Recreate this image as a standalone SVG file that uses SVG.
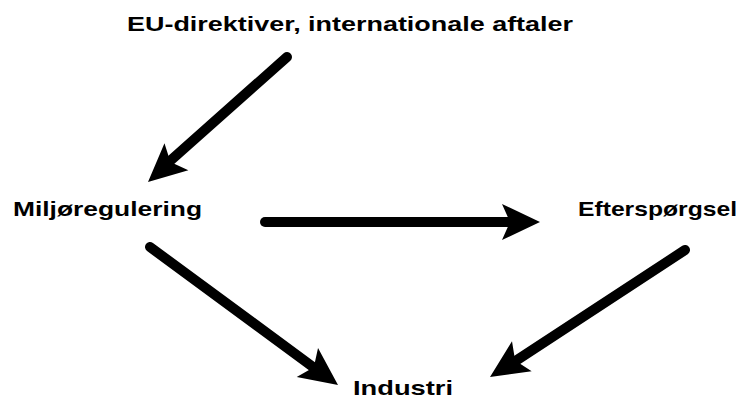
<svg xmlns="http://www.w3.org/2000/svg" width="742" height="399" viewBox="0 0 742 399">
  <style>
    .label { font-family: "Liberation Sans", Arial, sans-serif; font-weight: bold; font-size: 21px; fill: #000; }
    .shaft { stroke: #000; stroke-width: 10; stroke-linecap: round; fill: none; }
    .head { fill: #000; }
  </style>
  <defs>
    <!-- notched arrowhead pointing along +x, tip at origin -->
    <path id="arrowhead" d="M0,0 L-38,-18 L-30,0 L-38,18 Z"/>
  </defs>
  <rect width="742" height="399" fill="#fff"/>

  <g id="node-eu">
    <text class="label" x="127" y="31" textLength="446" lengthAdjust="spacingAndGlyphs">EU-direktiver, internationale aftaler</text>
  </g>
  <g id="node-miljo">
    <text class="label" x="13" y="216" textLength="189" lengthAdjust="spacingAndGlyphs">Miljøregulering</text>
  </g>
  <g id="node-efter">
    <text class="label" x="578" y="216" textLength="159" lengthAdjust="spacingAndGlyphs">Efterspørgsel</text>
  </g>
  <g id="node-industri">
    <text class="label" x="353" y="395" textLength="100" lengthAdjust="spacingAndGlyphs">Industri</text>
  </g>

  <g id="connectors">
    <!-- EU -> Miljøregulering -->
    <line class="shaft" x1="287" y1="57" x2="170" y2="161"/>
    <use href="#arrowhead" class="head" transform="translate(148,182) rotate(138.4)"/>
    <!-- Miljøregulering -> Efterspørgsel -->
    <line class="shaft" x1="265" y1="222" x2="512" y2="222"/>
    <use href="#arrowhead" class="head" transform="translate(540,222)"/>
    <!-- Miljøregulering -> Industri -->
    <line class="shaft" x1="150" y1="247" x2="313" y2="367"/>
    <use href="#arrowhead" class="head" transform="translate(338,385) rotate(36.3)"/>
    <!-- Efterspørgsel -> Industri -->
    <line class="shaft" x1="685" y1="250" x2="514" y2="362"/>
    <use href="#arrowhead" class="head" transform="translate(490,377) rotate(146.9)"/>
  </g>
</svg>
